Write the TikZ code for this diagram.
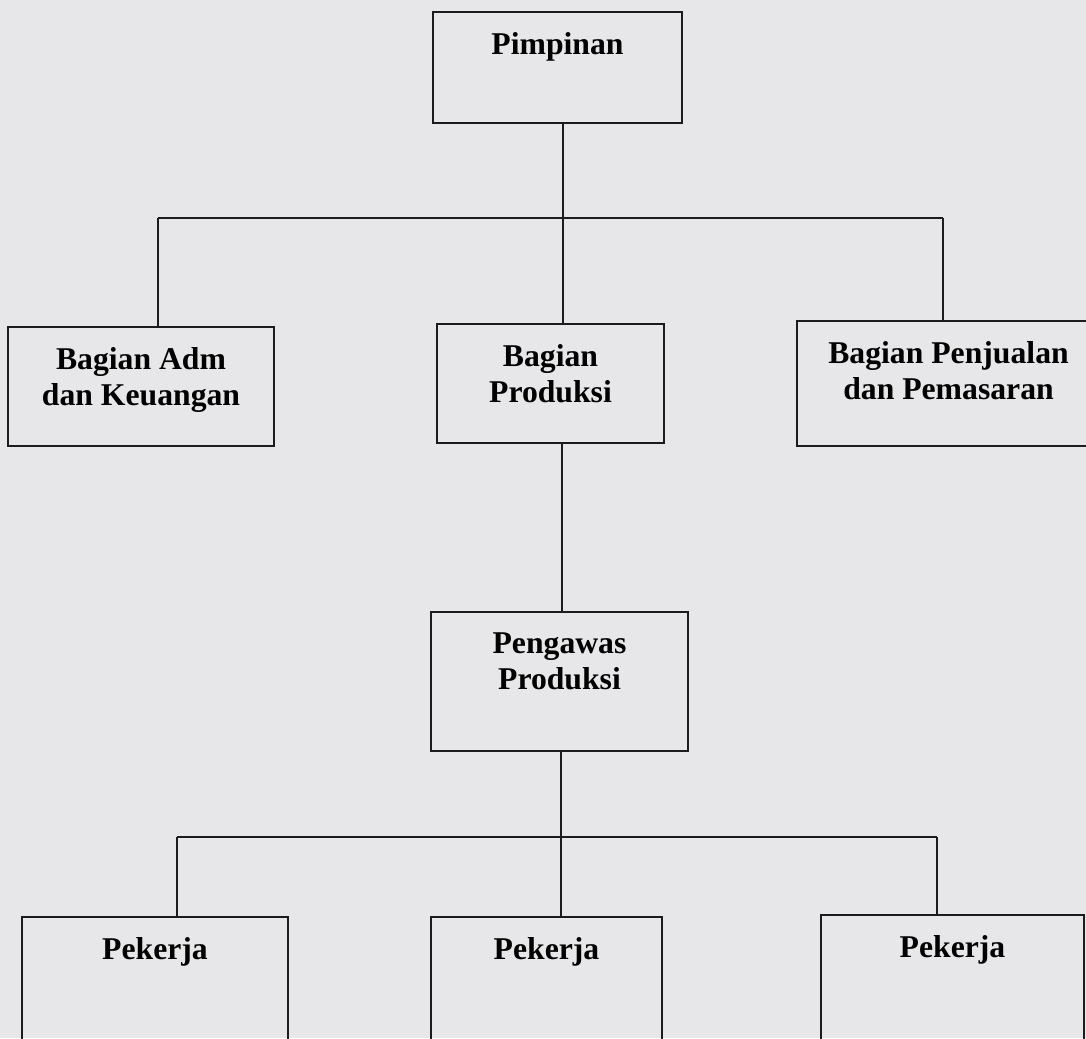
\documentclass[tikz,border=0pt]{standalone}
\usepackage{fontspec}
\setmainfont{Liberation Serif}
\begin{document}
\begin{tikzpicture}[x=0.5pt,y=-0.5pt,
  box/.style={draw=linec, line width=1pt, rectangle, inner sep=0pt, outer sep=0pt},
  lbl/.style={anchor=north, inner sep=0pt, align=center, text=black,
    font={\fontsize{15.85}{18}\selectfont\bfseries}},
  wire/.style={draw=linec, line width=0.9pt}]
\definecolor{bg}{HTML}{E7E7E9}
\definecolor{linec}{HTML}{1C1C1C}
\useasboundingbox (0,0) rectangle (1086,1038);
\fill[bg] (0,0) rectangle (1086,1038);
\begin{scope}
\clip (0,0) rectangle (1086,1038);
\newcommand\orgbox[6]{%
  \node[box, minimum width={(#4-#2)*0.5pt}, minimum height={(#5-#3)*0.5pt}]
    (#1) at ({(#2+#4)/2},{(#3+#5)/2}) {};
  \node[lbl] (#1t) at ([yshift=-10pt]#1.north) {#6};}
\orgbox{pim}{433}{12}{682}{123}{Pimpinan}
\orgbox{adm}{8}{327}{274}{446}{Bagian Adm\\dan Keuangan}
\orgbox{prod}{437}{324}{664}{443}{Bagian\\Produksi}
\orgbox{jual}{797}{321}{1100}{446}{Bagian Penjualan\\dan Pemasaran}
\orgbox{peng}{431}{612}{688}{751}{Pengawas\\Produksi}
\orgbox{pk1}{22}{917}{288}{1100}{Pekerja}
\orgbox{pk2}{431}{917}{662}{1100}{Pekerja}
\orgbox{pk3}{821}{915}{1084}{1100}{Pekerja}
\end{scope}
\coordinate (b1) at (563,218);
\coordinate (b1l) at (158,218);
\coordinate (b1r) at (943,218);
\coordinate (bm) at (562,600);
\coordinate (b2) at (561,837);
\coordinate (b2l) at (177,837);
\coordinate (b2r) at (937,837);
\draw[wire] (pim.south -| b1) -- (prod.north -| b1);
\draw[wire] (b1l) -- (b1r);
\draw[wire] (b1l) -- (adm.north -| b1l);
\draw[wire] (b1r) -- (jual.north -| b1r);
\draw[wire] (prod.south -| bm) -- (peng.north -| bm);
\draw[wire] (peng.south -| b2) -- (pk2.north -| b2);
\draw[wire] (b2l) -- (b2r);
\draw[wire] (b2l) -- (pk1.north -| b2l);
\draw[wire] (b2r) -- (pk3.north -| b2r);
\end{tikzpicture}
\end{document}
